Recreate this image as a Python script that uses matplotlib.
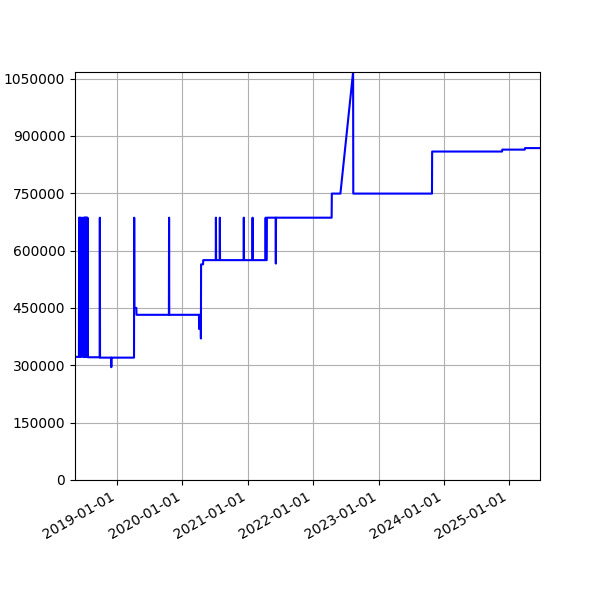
import matplotlib
matplotlib.use("Agg")
import matplotlib.pyplot as plt
import matplotlib.dates as mdates
from matplotlib.ticker import MultipleLocator
import pandas as pd

dates = [
    "2018-05-10", "2018-06-01",
    "2018-06-02", "2018-06-03", "2018-06-06", "2018-06-07", "2018-06-10", "2018-06-11",
    "2018-06-19", "2018-06-20", "2018-06-28", "2018-06-29", "2018-07-01", "2018-07-02",
    "2018-07-04", "2018-07-05", "2018-07-07", "2018-07-08", "2018-07-10", "2018-07-11",
    "2018-07-13", "2018-07-14", "2018-07-16", "2018-07-17", "2018-07-19", "2018-07-20",
    "2018-09-25", "2018-09-26", "2018-09-27",
    "2018-11-28", "2018-11-29", "2018-11-30",
    "2019-04-05", "2019-04-06", "2019-04-07", "2019-04-18", "2019-04-19",
    "2019-10-17", "2019-10-18", "2019-10-19",
    "2020-04-02", "2020-04-03", "2020-04-04", "2020-04-12", "2020-04-13", "2020-04-14",
    "2020-04-25", "2020-04-26",
    "2020-07-05", "2020-07-06", "2020-07-07",
    "2020-07-27", "2020-07-28", "2020-07-29",
    "2020-12-08", "2020-12-09", "2020-12-10",
    "2021-01-26", "2021-01-27", "2021-01-28",
    "2021-04-09", "2021-04-10", "2021-04-11", "2021-04-16", "2021-04-17",
    "2021-06-05", "2021-06-06", "2021-06-07",
    "2022-04-14", "2022-04-15", "2022-06-02", "2022-08-12", "2022-08-13",
    "2023-10-27", "2023-10-28",
    "2024-11-22", "2024-11-23",
    "2025-03-29", "2025-03-30", "2025-06-22",
]
values = [
    322000, 322000,
    686000, 322000, 686000, 322000, 686000, 322000,
    686000, 322000, 686000, 322000, 686000, 322000,
    686000, 322000, 686000, 322000, 686000, 322000,
    686000, 322000, 686000, 322000, 686000, 321000,
    321000, 686000, 320000,
    320000, 295000, 320000,
    320000, 686000, 450000, 450000, 432000,
    432000, 686000, 432000,
    432000, 395000, 432000, 432000, 370000, 564000,
    564000, 575000,
    575000, 686000, 575000,
    575000, 686000, 575000,
    575000, 686000, 575000,
    575000, 686000, 575000,
    575000, 686000, 575000, 575000, 686000,
    686000, 566000, 686000,
    686000, 749000, 749000, 1067000, 749000,
    749000, 859000,
    859000, 864000,
    864000, 868000, 868000,
]

x = pd.to_datetime(dates)

fig, ax = plt.subplots(figsize=(6, 6), dpi=100)
ax.plot(x, values, color="blue", linewidth=1.5)
ax.set_xlim(x[0], x[-1])
ax.set_ylim(0, max(values))
ax.yaxis.set_major_locator(MultipleLocator(150000))
ax.ticklabel_format(axis="y", style="plain", useOffset=False)
ax.xaxis.set_major_locator(mdates.YearLocator())
ax.xaxis.set_major_formatter(mdates.DateFormatter("%Y-%m-%d"))
ax.grid(True)
fig.autofmt_xdate()
fig.savefig("out.png", dpi=100)
